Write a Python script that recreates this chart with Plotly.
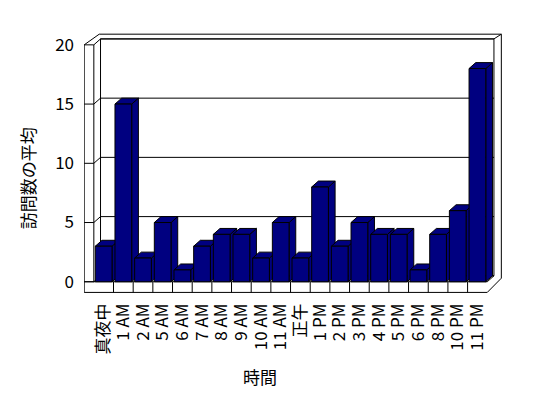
import plotly.graph_objects as go

categories = ["真夜中", "1 AM", "2 AM", "5 AM", "6 AM", "7 AM", "8 AM", "9 AM", "10 AM", "11 AM",
              "正午", "1 PM", "2 PM", "3 PM", "4 PM", "5 PM", "6 PM", "8 PM", "10 PM", "11 PM"]
values = [3, 15, 2, 5, 1, 3, 4, 4, 2, 5, 2, 8, 3, 5, 4, 4, 1, 4, 6, 18]
y_ticks = [0, 5, 10, 15, 20]

FONT = "Noto Sans CJK JP"
NAVY = "#000080"
HW = 0.425   # half width of bar front face (category units)
DX = 0.34    # depth offset x
DY = 0.5     # depth offset y

fig = go.Figure()

def poly(xs, ys):
    fig.add_trace(go.Scatter(x=xs + [xs[0]], y=ys + [ys[0]], mode="lines", fill="toself",
                             fillcolor=NAVY, line=dict(color="black", width=1),
                             hoverinfo="skip", showlegend=False))

for i, v in enumerate(values):
    poly([i + HW, i + HW + DX, i + HW + DX, i + HW], [0, DY, v + DY, v])          # side
    poly([i - HW, i + HW, i + HW + DX, i - HW + DX], [v, v, v + DY, v + DY])      # top
    poly([i - HW, i + HW, i + HW, i - HW], [0, 0, v, v])                          # front

n = len(categories)
XL = -0.99
XI = -0.5
XB0 = XI + DX
XB1 = n - 0.5 + DX
XF1 = n - 0.5
XO = XB1 + 0.376
YT = y_ticks[-1]
YB = -0.9

line = dict(color="black", width=1)
shapes = []
def path(pts, close=False):
    d = "M " + " L ".join(f"{x},{y}" for x, y in pts) + (" Z" if close else "")
    shapes.append(dict(type="path", path=d, xref="x", yref="y", line=line, layer="below"))

path([(XL, YB), (XL, YT), (XB0 - 0.066, YT + 0.9), (XO, YT + 0.9), (XO, 0.3), (XF1, YB)], close=True)
path([(XB0, DY), (XB1, DY), (XB1, YT + DY), (XB0, YT + DY)], close=True)
path([(XB1, YT + DY), (XO, YT + 0.9)])
path([(XI, 0), (XI, YT)])
for t in y_ticks:
    path([(XL, t), (XI, t), (XB0, t + DY), (XB1, t + DY)])
path([(XL, 0), (XF1, 0), (XB1, DY)])
for k in range(n - 1):
    path([(k + 0.5, 0), (k + 0.5, YB)])

W, H = 548, 398
BODY = 8  # default page body margin
xr = [-1.0, 20.25]
yr = [-0.95, 21.0]
pxu_x = 19.7
pxu_y = 11.865
plot_w = (xr[1] - xr[0]) * pxu_x
plot_h = (yr[1] - yr[0]) * pxu_y
ml = 93.6 - (-0.5 - xr[0]) * pxu_x - BODY
mt = 282 - yr[1] * pxu_y - BODY
mr = W - ml - plot_w
mb = H - mt - plot_h
bottom_px = mt + plot_h  # in figure coords

fig.update_layout(
    width=W, height=H,
    margin=dict(l=ml, r=mr, t=mt, b=mb, pad=0),
    paper_bgcolor="white", plot_bgcolor="white",
    font=dict(family=FONT, color="black", size=16),
    shapes=shapes,
    showlegend=False,
    xaxis=dict(range=xr, tickmode="array", tickvals=list(range(n)), ticktext=categories,
               tickangle=-90, showgrid=False, zeroline=False, showline=False, ticks="",
               tickfont=dict(size=17, family=FONT), automargin=False, fixedrange=True,
               ticklabelstandoff=6),
    yaxis=dict(range=yr, tickmode="array", tickvals=y_ticks, ticktext=[str(t) for t in y_ticks],
               showgrid=False, zeroline=False, showline=False, ticks="",
               tickfont=dict(size=17, family=FONT), automargin=False, fixedrange=True,
               ticklabelstandoff=9),
    annotations=[
        dict(text="訪問数の平均", textangle=-90, xref="paper", yref="paper",
             x=(28 - BODY - ml) / plot_w, y=(bottom_px - (178 - BODY)) / plot_h,
             showarrow=False, font=dict(size=17, family=FONT), xanchor="center", yanchor="middle"),
        dict(text="時間", xref="paper", yref="paper",
             x=(260 - BODY - ml) / plot_w, y=(bottom_px - (377 - BODY)) / plot_h,
             showarrow=False, font=dict(size=17, family=FONT), xanchor="center", yanchor="middle"),
    ],
)

fig.write_html("out.html")
